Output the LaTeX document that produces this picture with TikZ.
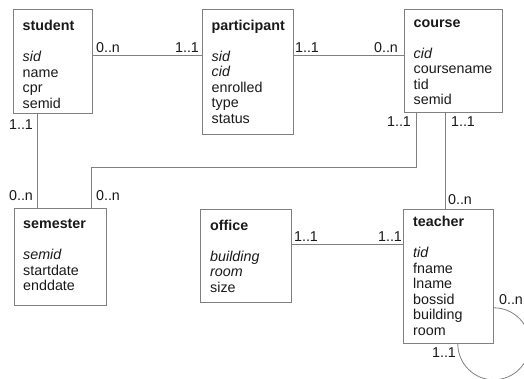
\documentclass[tikz,border=0pt]{standalone}
\usepackage{fontspec}
\setmainfont{Liberation Sans}
\definecolor{linegray}{gray}{0.5}
\definecolor{txt}{gray}{0.1}
\renewcommand{\arraystretch}{1}
\tikzset{
  ent/.style={rectangle, draw=linegray, line width=0.8pt, anchor=north west, inner sep=0pt},
  attrs/.style={anchor=base west, inner sep=0pt, font=\fontsize{14.3}{15.5}\selectfont, text=txt},
  card/.style={anchor=base, inner sep=0pt, font=\fontsize{14.3}{15.5}\selectfont, text=txt},
  conn/.style={draw=linegray, line width=0.8pt},
}
\begin{document}
\begin{tikzpicture}[x=1pt,y=-1pt]
\useasboundingbox (0,0) rectangle (524,379);
% entity boxes
\node[ent, minimum width=79pt, minimum height=104pt] (student) at (13,9) {};
\node[ent, minimum width=91pt, minimum height=125pt] (participant) at (202,9) {};
\node[ent, minimum width=98pt, minimum height=103pt] (course) at (404,9) {};
\node[ent, minimum width=92pt, minimum height=97pt] (semester) at (14,208) {};
\node[ent, minimum width=91pt, minimum height=93pt] (office) at (200,209) {};
\node[ent, minimum width=90pt, minimum height=134pt] (teacher) at (403,209) {};
% contents
\node[attrs] (student-t) at ([shift={(9.5,22)}]student.north west)
  {\begin{tabular}[t]{@{}l@{}}\textbf{student}\\ \\ \textit{sid}\\ name\\ cpr\\ semid\end{tabular}};
\node[attrs] (participant-t) at ([shift={(9.5,21.5)}]participant.north west)
  {\begin{tabular}[t]{@{}l@{}}\textbf{participant}\\ \\ \textit{sid}\\ \textit{cid}\\ enrolled\\ type\\ status\end{tabular}};
\node[attrs] (course-t) at ([shift={(9.5,18.5)}]course.north west)
  {\begin{tabular}[t]{@{}l@{}}\textbf{course}\\ \\ \textit{cid}\\ coursename\\ tid\\ semid\end{tabular}};
\node[attrs] (semester-t) at ([shift={(9,21)}]semester.north west)
  {\begin{tabular}[t]{@{}l@{}}\textbf{semester}\\ \\ \textit{semid}\\ startdate\\ enddate\end{tabular}};
\node[attrs] (office-t) at ([shift={(10,21)}]office.north west)
  {\begin{tabular}[t]{@{}l@{}}\textbf{office}\\ \\ \textit{building}\\ \textit{room}\\ size\end{tabular}};
\node[attrs] (teacher-t) at ([shift={(10,17.5)}]teacher.north west)
  {\begin{tabular}[t]{@{}l@{}}\textbf{teacher}\\ \\ \textit{tid}\\ fname\\ lname\\ bossid\\ building\\ room\end{tabular}};
% connectors
\draw[conn] ([yshift=-46pt]student.north east) -- ([yshift=-46pt]participant.north west);
\draw[conn] ([yshift=-46pt]participant.north east) -- ([yshift=-46pt]course.north west);
\draw[conn] ([xshift=24pt]student.south west) -- ([xshift=23pt]semester.north west);
\draw[conn] ([xshift=77pt]semester.north west) -- ++(0pt,41pt) -| ([xshift=12pt]course.south west);
\draw[conn] ([xshift=41.5pt]course.south west) -- ([xshift=42.5pt]teacher.north west);
\draw[conn] ([yshift=-35pt]office.north east) -- ([yshift=-35pt]teacher.north west);
\draw[conn] ([yshift=36pt]teacher.south east) arc[start angle=90, end angle=-180, radius=36pt];
% cardinalities
\node[card] (c1) at (108,53) {0..n};
\node[card] (c2) at (187,53) {1..1};
\node[card] (c3) at (307,53) {1..1};
\node[card] (c4) at (386,53) {0..n};
\node[card] (c5) at (21,130) {1..1};
\node[card] (c6) at (21,201) {0..n};
\node[card] (c7) at (108,201) {0..n};
\node[card] (c8) at (399,127) {1..1};
\node[card] (c9) at (463,127) {1..1};
\node[card] (c10) at (460,205) {0..n};
\node[card] (c11) at (306,241.5) {1..1};
\node[card] (c12) at (390,241.5) {1..1};
\node[card] (c13) at (511,304) {0..n};
\node[card] (c14) at (444,357) {1..1};
\end{tikzpicture}
\end{document}
